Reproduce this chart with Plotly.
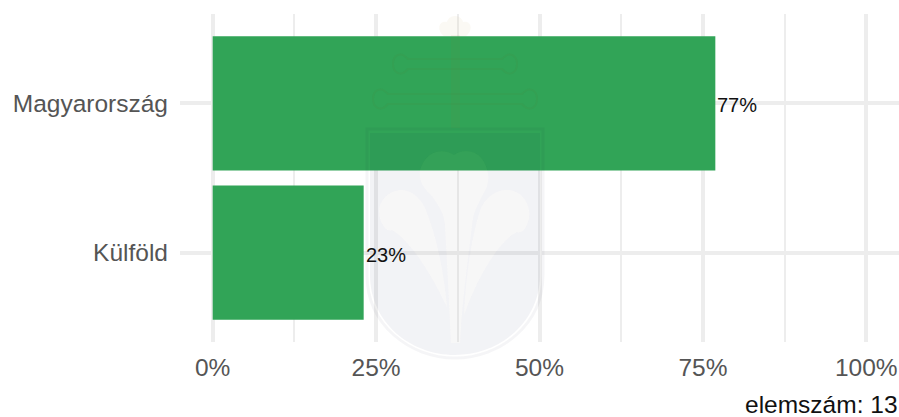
import plotly.graph_objects as go

categories = ["Külföld", "Magyarország"]
values = [23.1, 76.9]
labels = ["23%", "77%"]
x_ticks = [0, 25, 50, 75, 100]
x_tick_labels = ["0%", "25%", "50%", "75%", "100%"]
x_minor_ticks = [12.5, 37.5, 62.5, 87.5]
caption = "elemszám: 13"

W, H = 899, 417
L, R, T, B = 180, 0, 14, 75
PW, PH = W - L - R, H - T - B


def px(x):
    return (x - L) / PW


def py(y):
    return 1 - (y - T) / PH


def path(cmds):
    s = ""
    for c in cmds:
        s += f" {c} " if isinstance(c, str) else f"{px(c[0]):.5f},{py(c[1]):.5f} "
    return s.strip()


def shape(cmds, fill=None, line=None, lw=0):
    return dict(type="path", xref="paper", yref="paper", path=path(cmds), fillcolor=fill or "rgba(0,0,0,0)",
                line=dict(color=line or "rgba(0,0,0,0)", width=lw), layer="above")


shield_outline = ["M", (367, 129), "L", (543, 129), "L", (543, 275), "C", (543, 325), (500, 358), (455, 358),
                  "C", (410, 358), (367, 325), (367, 275), "Z"]
shield_fill = ["M", (370, 133), "L", (540, 133), "L", (540, 275), "C", (540, 322), (500, 355), (455, 355),
               "C", (410, 355), (370, 322), (370, 275), "Z"]
leaf_left = ["M", (400, 190), "C", (385, 192), (376, 205), (380, 218), "C", (383, 228), (388, 232), (392, 230),
             "C", (410, 240), (432, 275), (447, 307), "C", (444, 275), (438, 240), (425, 208),
             "C", (420, 198), (412, 190), (400, 190), "Z"]
leaf_right = ["M", (507, 190), "C", (495, 190), (486, 198), (481, 208), "C", (470, 240), (466, 280), (464, 315),
              "C", (478, 275), (500, 240), (517, 232), "C", (522, 234), (527, 228), (529, 218),
              "C", (531, 205), (522, 190), (507, 190), "Z"]
flower = ["M", (454, 155), "C", (445, 148), (428, 150), (422, 165), "C", (417, 175), (420, 185), (432, 196),
          "C", (438, 205), (444, 212), (445, 225), "C", (447, 260), (449, 300), (451, 343), "L", (460, 343),
          "C", (462, 300), (468, 260), (472, 225), "C", (473, 212), (478, 205), (482, 196),
          "C", (490, 185), (490, 172), (484, 162), "C", (478, 150), (463, 148), (454, 155), "Z"]
cross_v = ["M", (451, 35), "L", (460, 35), "L", (460, 128), "L", (451, 128), "Z"]
bar_1 = ["M", (408, 59), "C", (400, 50), (393, 56), (393, 64), "C", (393, 72), (400, 78), (408, 69),
         "L", (502, 69), "C", (510, 78), (517, 72), (517, 64), "C", (517, 56), (510, 50), (502, 59), "Z"]
bar_2 = ["M", (388, 94), "C", (380, 85), (373, 91), (373, 99), "C", (373, 107), (380, 113), (388, 104),
         "L", (522, 104), "C", (530, 113), (537, 107), (537, 99), "C", (537, 91), (530, 85), (522, 94), "Z"]
crown = ["M", (444, 36), "C", (436, 30), (439, 20), (447, 22), "C", (449, 14), (461, 14), (463, 22),
         "C", (471, 20), (474, 30), (466, 36), "Z"]

logo = [
    shape(shield_outline, line="rgba(0,10,40,0.04)", lw=3),
    shape(shield_fill + leaf_left + leaf_right + flower, fill="rgba(0,20,70,0.05)"),
    shape(leaf_left + leaf_right + flower, fill="rgba(117,117,117,0.055)"),
    shape(cross_v, fill="rgba(150,120,50,0.06)"),
    shape(bar_1, line="rgba(110,110,40,0.06)", lw=2),
    shape(bar_2, line="rgba(110,110,40,0.06)", lw=2),
    shape(crown, fill="rgba(180,150,70,0.06)"),
]

fig = go.Figure(go.Bar(
    y=categories, x=values, orientation="h", width=0.9,
    marker=dict(color="#31a457", line=dict(width=0)),
))
label_notes = [dict(text=t, x=v, y=c, xref="x", yref="y", xanchor="left", yanchor="middle", showarrow=False, yshift=-2,
                    xshift=0, font=dict(family="Liberation Sans", size=20, color="#111111"))
               for t, v, c in zip(labels, values, categories)]
fig.update_layout(
    width=W, height=H, autosize=False,
    margin=dict(l=L, r=R, t=T, b=B, pad=0),
    paper_bgcolor="white", plot_bgcolor="white",
    font=dict(family="Liberation Sans", color="#555555", size=24.5),
    showlegend=False, shapes=logo,
    annotations=label_notes + [dict(text=caption, xref="paper", yref="paper", x=1, y=py(404), xanchor="right",
                                    yanchor="middle", showarrow=False, xshift=1,
                                    font=dict(family="Liberation Sans", size=24.5, color="#111111"))],
)
fig.update_xaxes(range=[-5, 105], tickvals=x_ticks, ticktext=x_tick_labels, showgrid=True, gridcolor="#ededed", gridwidth=4,
                 zeroline=False, showline=False, ticks="", ticklabelstandoff=8,
                 minor=dict(tickvals=x_minor_ticks, showgrid=True, gridcolor="#ededed", gridwidth=2))
fig.update_yaxes(range=[-0.6, 1.6], showgrid=True, gridcolor="#ededed", gridwidth=4, zeroline=False, showline=False,
                 ticks="", ticklabelstandoff=11)
fig.write_html("out.html", config={"displayModeBar": False},
               post_script="document.body.style.margin='0';document.body.style.overflow='hidden';")
